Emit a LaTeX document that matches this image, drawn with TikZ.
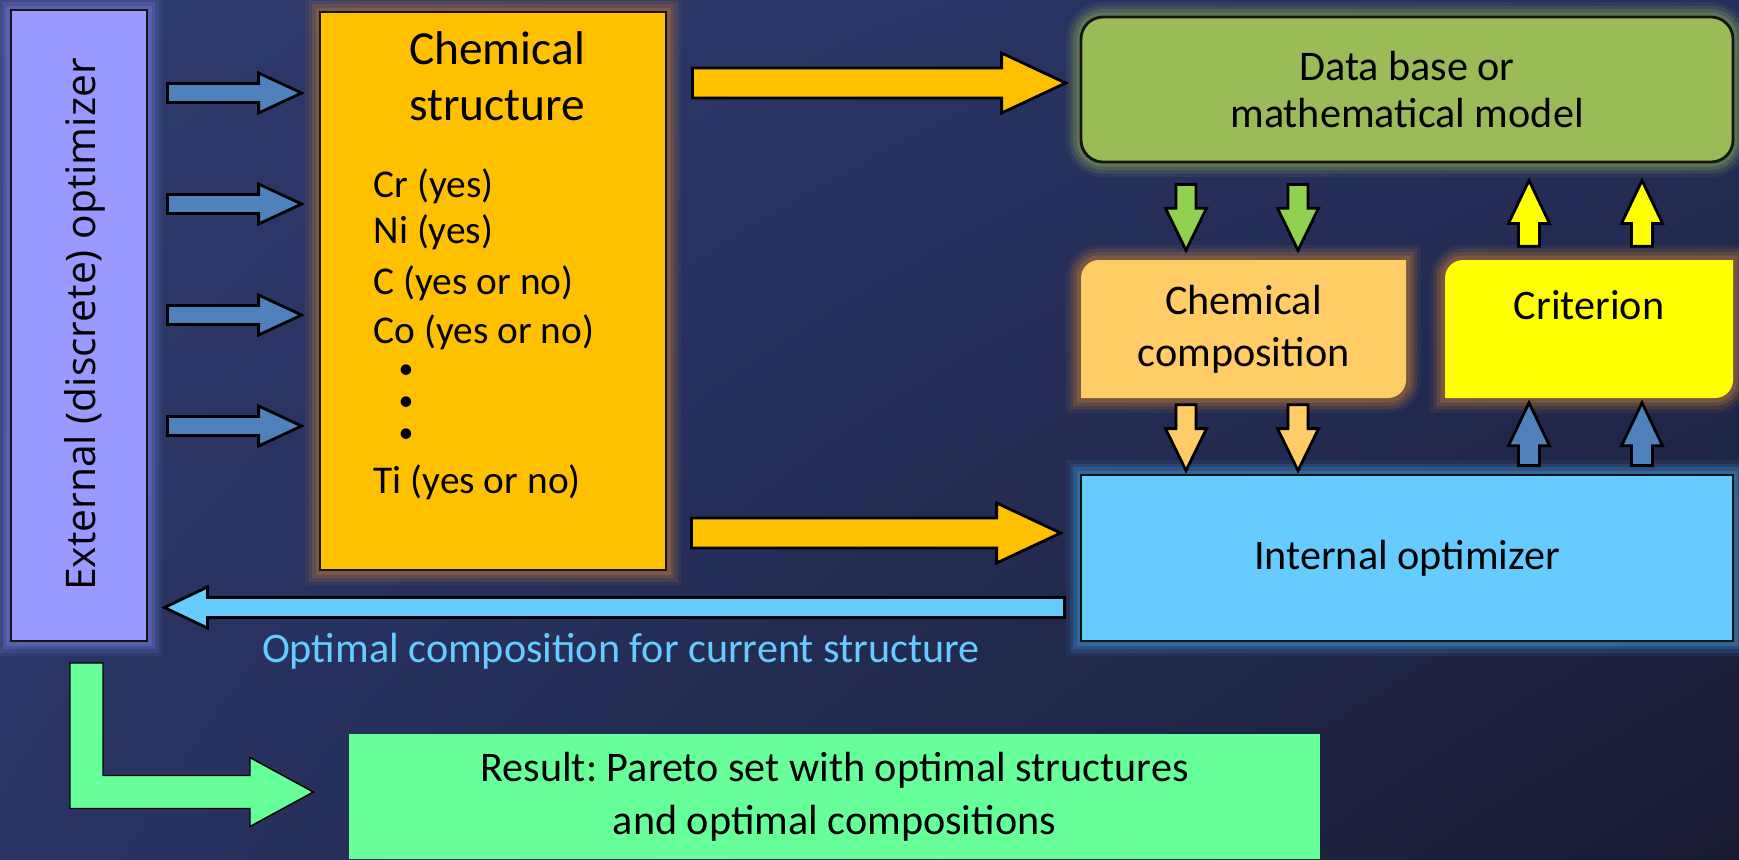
\documentclass[tikz,border=0pt]{standalone}
\usepackage{fontspec}
\setmainfont{Carlito}
\newfontfamily\opensans{Open Sans}
\usetikzlibrary{calc,shadings}
\frenchspacing
\definecolor{bgtl}{HTML}{2E3B6F}
\definecolor{bgtr}{HTML}{262F5C}
\definecolor{bgbl}{HTML}{2A3463}
\definecolor{bgbr}{HTML}{181B31}
\definecolor{lav}{HTML}{9999FF}
\definecolor{gold}{HTML}{FFC000}
\definecolor{steel}{HTML}{4F81BD}
\definecolor{moss}{HTML}{9BBB59}
\definecolor{leaf}{HTML}{92D050}
\definecolor{peach}{HTML}{FFCC66}
\definecolor{lemon}{HTML}{FFFF00}
\definecolor{sky}{HTML}{66CCFF}
\definecolor{mint}{HTML}{66FF99}
\definecolor{edge}{HTML}{151515}
\definecolor{glowlav}{HTML}{6A70C8}
\definecolor{glowbrown}{HTML}{9A683E}
\definecolor{glowmoss}{HTML}{728F55}
\definecolor{glowsky}{HTML}{3A80BA}
\newcommand\fatarrow[6]{%
  \coordinate (fa) at ($(#3)!#6!(#2)$);
  \draw[#1] ($(#2)!#4!90:(#3)$) -- ($(fa)!#4!90:(#3)$) -- ($(fa)!#5!90:(#3)$) -- (#3)
    -- ($(fa)!#5!-90:(#3)$) -- ($(fa)!#4!-90:(#3)$) -- ($(#2)!#4!-90:(#3)$) -- cycle;}
\tikzset{
  glow/.style={preaction={draw=#1,line width=0.30cm,opacity=0.12},
    preaction={draw=#1,line width=0.23cm,opacity=0.2},
    preaction={draw=#1,line width=0.16cm,opacity=0.3},
    preaction={draw=#1,line width=0.09cm,opacity=0.45}},
  txt/.style={inner sep=0pt,align=center,font=\fontsize{12}{14}\selectfont},
  box/.style={txt,draw=edge,line width=0.8pt},
  item/.style={inner sep=0pt,anchor=west,font=\fontsize{11.2}{13}\selectfont},
  arr/.style={draw=black,line width=0.8pt,fill=#1,line join=miter}
}
\begin{document}
\begin{tikzpicture}
\useasboundingbox (0,0) rectangle (17.39,-8.59);
\shade[upper left=bgtl,upper right=bgtr,lower left=bgbl,lower right=bgbr] (0,0) rectangle (17.39,-8.59);
\node[box,fill=lav,glow=glowlav,minimum width=1.36cm,minimum height=6.31cm] (ext) at (0.79,-3.255) {};
\node[rotate=90,anchor=base,inner sep=0pt,font=\opensans\fontsize{11.6}{14}\selectfont] (extlbl) at (0.95,-3.245) {External (discrete) optimizer};
\node[box,fill=gold,glow=glowbrown,minimum width=3.46cm,minimum height=5.58cm] (chem) at (4.93,-2.91) {};
\node[txt,font=\fontsize{13.5}{15.8}\selectfont] (chemlbl) at (4.97,-0.76) {Chemical\\structure};
\foreach \y/\el [count=\i] in {1.86/Cr (yes),2.32/Ni (yes),2.83/C (yes or no),3.32/Co (yes or no),4.82/Ti (yes or no)}
  \node[item] (el\i) at (3.73,-\y) {\el};
\foreach \y [count=\i] in {3.72,4.04,4.36}
  \node[item,anchor=center,font=\fontsize{8.5}{9}\selectfont] (dot\i) at (4.06,-\y) {•};
\node[box,fill=moss,glow=glowmoss,rounded corners=0.22cm,minimum width=6.52cm,minimum height=1.45cm,font=\fontsize{12}{13.6}\selectfont] (db) at (14.07,-0.895) {Data base or\\mathematical model};
\node[box,fill=sky,glow=glowsky,minimum width=6.52cm,minimum height=1.66cm] (intopt) at (14.07,-5.58) {Internal optimizer};
\foreach \xa/\xb/\col in {10.81/14.06/peach,14.45/17.33/lemon}
  \path[fill=\col,glow=glowbrown] (\xa,-2.78) arc[start angle=180,end angle=90,radius=0.18] -- (\xb,-2.60)
    -- (\xb,-3.80) arc[start angle=0,end angle=-90,radius=0.18] -- (\xa,-3.98) -- cycle;
\node[txt,minimum width=3.25cm,minimum height=1.38cm,font=\fontsize{12}{14.8}\selectfont] (comp) at (12.435,-3.29) {Chemical\\composition};
\node[txt,minimum width=2.88cm,minimum height=1.38cm] (crit) at (15.89,-3.29) {};
\node[txt] (critlbl) at (15.89,-3.05) {Criterion};
\node[txt,fill=mint,minimum width=9.71cm,minimum height=1.25cm,font=\fontsize{12}{15}\selectfont] (result) at (8.345,-7.965) {Result: Pareto set with optimal structures\\and optimal compositions};
\foreach \y in {0.93,2.04,3.15,4.26}{
  \coordinate (bt) at ($(ext.east |- 0,-\y)+(0.19,0)$);
  \coordinate (bh) at ($(chem.west |- 0,-\y)+(-0.17,0)$);
  \fatarrow{arr=steel}{bt}{bh}{0.095cm}{0.2cm}{0.43cm}}
\coordinate (ot1) at ($(chem.east |- 0,-0.83)+(0.25,0)$);
\coordinate (oh1) at ($(db.west |- 0,-0.83)+(-0.14,0)$);
\coordinate (ot2) at ($(chem.east |- 0,-5.33)+(0.24,0)$);
\coordinate (oh2) at ($(intopt.west |- 0,-5.33)+(-0.19,0)$);
\fatarrow{arr=gold}{ot1}{oh1}{0.15cm}{0.3cm}{0.64cm}
\fatarrow{arr=gold}{ot2}{oh2}{0.15cm}{0.3cm}{0.64cm}
\foreach \x in {11.86,12.98}{
  \coordinate (gt) at ($(db.south -| \x,0)+(0,-0.21)$);
  \coordinate (gh) at ($(comp.north -| \x,0)+(0,0.09)$);
  \fatarrow{arr=leaf}{gt}{gh}{0.1cm}{0.205cm}{0.42cm}
  \coordinate (pt) at ($(comp.south -| \x,0)+(0,-0.06)$);
  \coordinate (ph) at ($(intopt.north -| \x,0)+(0,0.03)$);
  \fatarrow{arr=peach}{pt}{ph}{0.1cm}{0.205cm}{0.42cm}}
\foreach \x in {15.29,16.42}{
  \coordinate (yt) at ($(crit.north -| \x,0)+(0,0.13)$);
  \coordinate (yh) at ($(db.south -| \x,0)+(0,-0.17)$);
  \fatarrow{arr=lemon}{yt}{yh}{0.105cm}{0.205cm}{0.43cm}
  \coordinate (st) at ($(intopt.north -| \x,0)+(0,0.08)$);
  \coordinate (sh) at ($(crit.south -| \x,0)+(0,-0.04)$);
  \fatarrow{arr=steel}{st}{sh}{0.105cm}{0.205cm}{0.43cm}}
\coordinate (rt) at ($(intopt.west |- 0,-6.075)+(-0.15,0)$);
\coordinate (rh) at ($(ext.east |- 0,-6.075)+(0.16,0)$);
\fatarrow{arr=sky}{rt}{rh}{0.1cm}{0.205cm}{0.43cm}
\node[txt,text=sky] (optlbl) at (6.21,-6.51) {Optimal composition for current structure};
\draw[arr=mint,line width=0.4pt] (0.70,-6.63) -- (1.03,-6.63) -- (1.03,-7.755) -- (2.50,-7.755) -- (2.50,-7.575)
  -- ($(result.west |- 0,-7.92)+(-0.35,0)$) -- (2.50,-8.265) -- (2.50,-8.085) -- (0.70,-8.085) -- cycle;
\end{tikzpicture}
\end{document}
